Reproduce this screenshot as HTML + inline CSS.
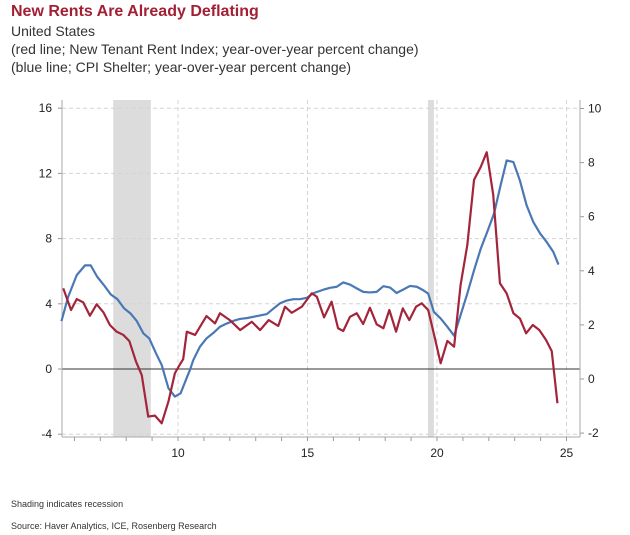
<!DOCTYPE html>
<html><head><meta charset="utf-8">
<style>
body{margin:0;background:#fff;font-family:"Liberation Sans",sans-serif;}
#wrap{position:relative;width:630px;height:535px;overflow:hidden;}
.t{position:absolute;left:11px;white-space:nowrap;color:#333;}
</style></head><body>
<div id="wrap">
<div class="t" style="top:3px;font-size:16px;font-weight:bold;color:#a31f34;">New Rents Are Already Deflating</div>
<div class="t" style="top:23px;font-size:14px;">United States</div>
<div class="t" style="top:41px;font-size:14px;">(red line; New Tenant Rent Index; year-over-year percent change)</div>
<div class="t" style="top:59px;font-size:14px;">(blue line; CPI Shelter; year-over-year percent change)</div>
<div class="t" style="top:499px;font-size:9px;">Shading indicates recession</div>
<div class="t" style="top:521px;font-size:9px;">Source: Haver Analytics, ICE, Rosenberg Research</div>
<svg id="chart" width="630" height="535" style="position:absolute;left:0;top:0"></svg>
</div>
<script>
const leftTicks=[16,12,8,4,0,-4];
const rightTicks=[10,8,6,4,2,0,-2];
const xTicks=[10,15,20,25];
const recessions=[[7.5,8.95],[19.65,19.88]];
const redYears=[5.57,5.87,6.09,6.34,6.6,6.86,7.12,7.37,7.63,7.89,8.12,8.38,8.6,8.85,9.11,9.37,9.63,9.88,10.08,10.2,10.34,10.66,11.1,11.43,11.62,12.0,12.4,12.85,13.17,13.5,13.87,14.13,14.39,14.78,15.16,15.36,15.64,15.93,16.18,16.38,16.64,16.9,17.15,17.41,17.67,17.93,18.16,18.42,18.68,18.93,19.19,19.41,19.66,19.92,20.14,20.4,20.66,20.91,21.17,21.43,21.69,21.92,22.17,22.43,22.69,22.95,23.2,23.44,23.7,23.95,24.21,24.43,24.65];
const redValues=[4.95,3.62,4.29,4.09,3.27,3.97,3.48,2.7,2.29,2.09,1.72,0.45,-0.37,-2.92,-2.86,-3.33,-2.0,-0.26,0.3,0.6,2.29,2.09,3.25,2.8,3.42,3.0,2.39,2.9,2.39,3.0,2.64,3.82,3.45,3.82,4.64,4.44,3.17,4.13,2.5,2.33,3.2,3.42,2.76,3.76,2.74,2.5,3.62,2.29,3.72,3.0,3.82,4.03,3.62,1.88,0.35,1.72,1.37,5.15,7.6,11.6,12.4,13.3,10.7,5.26,4.64,3.42,3.1,2.19,2.7,2.39,1.78,1.1,-2.1];
const blueYears=[5.5,5.76,6.09,6.41,6.63,6.88,7.14,7.4,7.66,7.92,8.17,8.41,8.66,8.89,9.15,9.37,9.63,9.88,10.1,10.36,10.46,10.59,10.85,11.1,11.36,11.62,11.88,12.14,12.39,12.65,12.91,13.17,13.43,13.68,13.94,14.2,14.45,14.71,14.97,15.22,15.61,15.87,16.13,16.38,16.64,16.9,17.15,17.41,17.67,17.93,18.19,18.44,18.7,18.96,19.22,19.47,19.66,19.88,20.14,20.4,20.66,20.91,21.17,21.43,21.69,21.94,22.2,22.46,22.69,22.95,23.2,23.46,23.72,23.98,24.23,24.49,24.69];
const blueValues=[2.14,3.04,3.84,4.2,4.2,3.78,3.47,3.13,2.95,2.61,2.42,2.14,1.69,1.5,0.95,0.52,-0.34,-0.65,-0.53,0.1,0.33,0.7,1.2,1.5,1.7,1.93,2.05,2.15,2.22,2.25,2.3,2.35,2.4,2.6,2.8,2.9,2.95,2.95,3.0,3.17,3.3,3.37,3.41,3.57,3.49,3.35,3.22,3.2,3.22,3.43,3.38,3.18,3.31,3.44,3.41,3.28,3.16,2.48,2.24,1.93,1.6,2.36,3.16,4.02,4.82,5.44,6.11,7.18,8.08,8.02,7.34,6.42,5.8,5.38,5.07,4.7,4.23];

const NS='http://www.w3.org/2000/svg';
const svg=document.getElementById('chart');
const X0=62,X1=580,Y0=100,Y1=437;
const xs=y=>178+(y-10)*25.9;
const yl=v=>369-v*16.3;
const yr=v=>379-v*27.05;
function mk(tag,attrs,parent){const e=document.createElementNS(NS,tag);for(const k in attrs)e.setAttribute(k,attrs[k]);(parent||svg).appendChild(e);return e;}

recessions.forEach(r=>{
  const e=mk('rect',{x:xs(r[0]),y:Y0,width:xs(r[1])-xs(r[0]),height:Y1-Y0,fill:'#dcdcdc'});
  
  
});
leftTicks.forEach(t=>{
  if(t!==0){const g=mk('line',{x1:X0,x2:X1,y1:yl(t),y2:yl(t),stroke:'#d4d4d4','stroke-dasharray':'4,3'});
  
  }
  mk('line',{x1:X0-4,x2:X0,y1:yl(t),y2:yl(t),stroke:'#999'});
  const tx=mk('text',{x:52,y:yl(t)+4,'text-anchor':'end','font-size':12,fill:'#222'});
  tx.textContent=t;
  
  
});
xTicks.forEach(t=>{
  const g=mk('line',{x1:xs(t),x2:xs(t),y1:Y0,y2:Y1,stroke:'#d4d4d4','stroke-dasharray':'4,3'});
  
  
  const tx=mk('text',{x:xs(t),y:457,'text-anchor':'middle','font-size':12,fill:'#222'});
  tx.textContent=t;
  
  
});
for(let y=6;y<=25;y++){mk('line',{x1:xs(y),x2:xs(y),y1:Y1,y2:Y1+4,stroke:'#999'});}
rightTicks.forEach(t=>{
  mk('line',{x1:X1,x2:X1+4,y1:yr(t),y2:yr(t),stroke:'#999'});
  const tx=mk('text',{x:588,y:yr(t)+4,'font-size':12,fill:'#222'});
  tx.textContent=t;
  
  
});
const zl=mk('line',{x1:X0,x2:X1,y1:yl(0),y2:yl(0),stroke:'#333','stroke-width':1});


mk('line',{x1:X0,x2:X0,y1:Y0,y2:Y1,stroke:'#aaa'});
mk('line',{x1:X1,x2:X1,y1:Y0,y2:Y1,stroke:'#aaa'});
const xa=mk('line',{x1:X0,x2:X1,y1:Y1,y2:Y1,stroke:'#aaa'});



const bp=mk('polyline',{points:blueYears.map((y,i)=>xs(y)+','+yr(blueValues[i])).join(' '),fill:'none',stroke:'#4a78b5','stroke-width':2.2,'stroke-linejoin':'round'});


const rp=mk('polyline',{points:redYears.map((y,i)=>xs(y)+','+yl(redValues[i])).join(' '),fill:'none',stroke:'#a3253c','stroke-width':2.2,'stroke-linejoin':'round'});


</script>
</body></html>
